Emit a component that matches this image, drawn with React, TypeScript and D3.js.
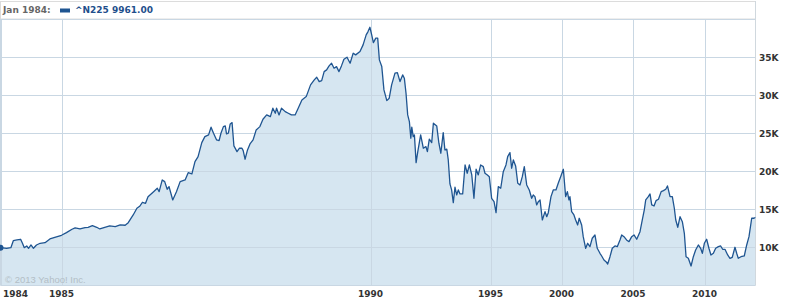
import React from "react";
import * as d3 from "d3";

// Nikkei 225 (^N225) monthly-ish closes, decimal year
const years: number[] = [
  1984.00, 1984.10, 1984.17, 1984.21, 1984.27, 1984.33, 1984.36, 1984.39, 1984.43, 1984.46,
  1984.50, 1984.54, 1984.59, 1984.65, 1984.73, 1984.81, 1984.89, 1985.00, 1985.08, 1985.17,
  1985.22, 1985.30, 1985.38, 1985.43, 1985.50, 1985.57, 1985.62, 1985.70, 1985.78, 1985.87,
  1985.95, 1986.03, 1986.08, 1986.16, 1986.22, 1986.27, 1986.31, 1986.36, 1986.40, 1986.49,
  1986.55, 1986.58, 1986.63, 1986.67, 1986.71, 1986.74, 1986.80, 1986.86, 1986.92, 1987.00,
  1987.05, 1987.11, 1987.16, 1987.21, 1987.27, 1987.32, 1987.38, 1987.42, 1987.46, 1987.51,
  1987.55, 1987.58, 1987.62, 1987.65, 1987.67, 1987.70, 1987.73, 1987.76, 1987.79, 1987.84,
  1987.88, 1987.92, 1987.94, 1987.97, 1988.01, 1988.05, 1988.10, 1988.15, 1988.21, 1988.26,
  1988.32, 1988.38, 1988.42, 1988.46, 1988.48, 1988.52, 1988.56, 1988.62, 1988.67, 1988.72,
  1988.78, 1988.83, 1988.89, 1988.96, 1988.99, 1989.03, 1989.09, 1989.13, 1989.17, 1989.21,
  1989.25, 1989.29, 1989.33, 1989.37, 1989.41, 1989.45, 1989.49, 1989.53, 1989.57, 1989.62,
  1989.67, 1989.72, 1989.76, 1989.83, 1989.88, 1989.93, 1989.96, 1989.99, 1990.05, 1990.12,
  1990.22, 1990.30, 1990.37, 1990.47, 1990.56, 1990.68, 1990.78, 1990.88, 1991.02, 1991.12,
  1991.23, 1991.34, 1991.41, 1991.48, 1991.55, 1991.62, 1991.68, 1991.72, 1991.78, 1991.83,
  1991.90, 1991.97, 1992.09, 1992.20, 1992.31, 1992.37, 1992.45, 1992.55, 1992.62, 1992.76,
  1992.85, 1992.93, 1993.03, 1993.10, 1993.18, 1993.24, 1993.31, 1993.38, 1993.45, 1993.52,
  1993.59, 1993.66, 1993.73, 1993.84, 1993.94, 1994.03, 1994.12, 1994.22, 1994.31, 1994.40,
  1994.49, 1994.59, 1994.70, 1994.77, 1994.87, 1994.95, 1995.08, 1995.25, 1995.39, 1995.55,
  1995.72, 1995.90, 1996.09, 1996.21, 1996.37, 1996.49, 1996.61, 1996.77, 1996.92, 1997.08,
  1997.24, 1997.38, 1997.55, 1997.73, 1997.90, 1998.01, 1998.13, 1998.25, 1998.37, 1998.49,
  1998.65, 1998.84, 1998.96, 1999.07, 1999.26, 1999.42, 1999.61, 1999.77, 1999.96, 2000.13,
  2000.29, 2000.41, 2000.52, 2000.59, 2000.71, 2000.87, 2000.99, 2001.13, 2001.24, 2001.41,
  2001.52, 2001.69, 2001.83, 2001.99, 2002.15, 2002.34, 2002.50, 2002.69, 2002.81, 2002.97,
  2003.11, 2003.23, 2003.39, 2003.55, 2003.74, 2003.90, 2004.09, 2004.21, 2004.37, 2004.55,
  2004.72, 2004.91, 2005.07, 2005.26, 2005.49, 2005.65, 2005.79, 2005.89, 2006.07, 2006.19,
  2006.31, 2006.47, 2006.61, 2006.78, 2006.97, 2007.13, 2007.29, 2007.41, 2007.59, 2007.75,
  2007.89, 2007.99, 2008.13, 2008.29, 2008.45, 2008.59, 2008.71, 2008.87, 2009.06, 2009.22,
  2009.38, 2009.57, 2009.73, 2009.85, 2009.99, 2010.15, 2010.31, 2010.45, 2010.62, 2010.78,
  2010.97, 2011.13, 2011.27, 2011.43, 2011.62, 2011.78, 2011.94, 2012.13, 2012.25, 2012.36,
  2012.55, 2012.78, 2012.95, 2013.11, 2013.30, 2013.46, 2013.58,
];

const closes: number[] = [
  9961, 9888, 9967, 10887, 10979, 11071, 10545, 9967, 10190, 9888,
  10322, 9888, 10322, 10545, 10624, 11110, 11333, 11596, 11938, 12385,
  12556, 12424, 12595, 12647, 12858, 12647, 12424, 12647, 12818, 12726,
  12950, 12910, 13252, 14264, 15144, 15446, 15932, 15801, 16668, 17325,
  17772, 17325, 18863, 18639, 17641, 17982, 16235, 17325, 18639, 18863,
  19822, 19651, 21267, 21924, 23764, 24552, 24776, 25787, 24999, 24119,
  24027, 24999, 25866, 25958, 24907, 24999, 26221, 26392, 23330, 22581,
  23028, 23028, 22713, 21583, 22805, 23593, 24119, 25433, 25866, 26839,
  27404, 27180, 28284, 27627, 28284, 27404, 28284, 27837, 27627, 27404,
  27404, 28284, 29375, 29808, 30465, 31346, 32003, 32357, 31779, 31911,
  33093, 33317, 33842, 34197, 33540, 33750, 33093, 33842, 34723, 34985,
  34197, 35511, 35288, 35721, 36602, 37916, 38349, 38916, 37916, 36904,
  37482, 37482, 34631, 33750, 30689, 29283, 29598, 31346, 32883, 32962,
  31779, 32660, 32226, 30255, 27404, 26523, 24342, 25787, 24552, 24776,
  21136, 22581, 24776, 23028, 23238, 22581, 24211, 23764, 26313, 25958,
  23685, 22371, 25078, 22805, 22897, 21491, 18337, 17549, 15880, 17903,
  16892, 17549, 17023, 17023, 20834, 19743, 20834, 19520, 16458, 20269,
  19520, 20834, 20610, 19743, 19520, 19296, 16458, 16011, 14566, 17982,
  17772, 19953, 20834, 21924, 22450, 20400, 21491, 20702, 18429, 18206,
  19296, 20610, 18206, 17549, 16458, 16892, 16668, 15578, 16011, 16235,
  13607, 14697, 14040, 14566, 16668, 17549, 17549, 18429, 19388, 20269,
  16668, 17325, 16235, 16668, 14697, 14264, 13607, 12950, 13830, 12950,
  11412, 9888, 10545, 10098, 11202, 11636, 9888, 9231, 8876, 8351,
  8127, 7825, 8784, 9888, 10190, 10098, 10979, 11636, 11412, 10979,
  10755, 11412, 11636, 11071, 12069, 13607, 14921, 16235, 16668, 17023,
  15578, 15446, 16143, 16327, 17325, 17457, 17641, 18074, 16668, 16668,
  15144, 13607, 12647, 14040, 13383, 11859, 8784, 8574, 7562, 8784,
  9665, 10322, 9888, 9231, 10545, 11071, 9888, 9008, 9231, 9888,
  10098, 10190, 9757, 9757, 9008, 8574, 8705, 10019, 9231, 8574,
  8784, 8876, 10322, 11412, 13830, 13830, 13962,
];

const xTickYears: number[] = [1984, 1985, 1990, 1995, 2000, 2005, 2010];
const xTickLabels: string[] = ["1984", "1985", "1990", "1995", "2000", "2005", "2010"];
const yTickValues: number[] = [10000, 15000, 20000, 25000, 30000, 35000];
const yTickLabels: string[] = ["10K", "15K", "20K", "25K", "30K", "35K"];

const legendDate = "Jan 1984:";
const legendSymbol = "^N225";
const legendValue = "9961.00";

const W = 785;
const H = 303;
const plotLeft = 0.5;
const plotRight = 755.5;
const plotTop = 19;
const plotBottom = 285.5;

// Yahoo's compressed time axis: piecewise-linear positions per tick year
const xScale = d3
  .scaleLinear()
  .domain([1984, 1985, 1990, 1995, 2000, 2005, 2010, 2013.6])
  .range([0.5, 61.5, 370.5, 490.5, 561.5, 633, 704.5, 756]);

const yScale = d3.scaleLinear().domain([5000, 40000]).range([plotBottom, plotTop]);

const FONT = "'DejaVu Sans', Verdana, sans-serif";

export default function App() {
  const pts: [number, number][] = years.map((y, i) => [y, closes[i]]);
  const line = d3
    .line<[number, number]>()
    .x((d) => xScale(d[0]))
    .y((d) => yScale(d[1]));
  const area = d3
    .area<[number, number]>()
    .x((d) => xScale(d[0]))
    .y0(plotBottom)
    .y1((d) => yScale(d[1]));

  const gridColor = "#c9d7e3";

  return (
    <svg
      width={W}
      height={H}
      style={{ position: "absolute", left: 0, top: 0, background: "#fff" }}
    >
      <defs>
        <clipPath id="plotClip">
          <rect x={0} y={plotTop} width={plotRight} height={plotBottom - plotTop} />
        </clipPath>
      </defs>
      {/* header frame */}
      <rect x={0.5} y={1.5} width={plotRight - 0.5} height={plotTop - 1.5} fill="#fff" stroke="#dcdcdc" />

      {/* area */}
      <path d={area(pts) || ""} fill="#d6e6f1" clipPath="url(#plotClip)" />

      {/* grid */}
      {yTickValues.map((v) => (
        <line
          key={"gy" + v}
          x1={plotLeft}
          x2={plotRight}
          y1={Math.round(yScale(v)) + 0.5}
          y2={Math.round(yScale(v)) + 0.5}
          stroke={gridColor}
        />
      ))}
      {xTickYears.map((y) => (
        <line
          key={"gx" + y}
          x1={Math.round(xScale(y)) + 0.5}
          x2={Math.round(xScale(y)) + 0.5}
          y1={plotTop}
          y2={plotBottom}
          stroke={gridColor}
        />
      ))}
      {/* plot frame */}
      <line x1={plotLeft} x2={plotRight} y1={plotTop + 0.5} y2={plotTop + 0.5} stroke={gridColor} />
      <line x1={plotLeft} x2={plotRight} y1={plotBottom} y2={plotBottom} stroke={gridColor} />
      <line x1={plotLeft} x2={plotLeft} y1={plotTop} y2={plotBottom} stroke={gridColor} />
      <line x1={plotRight} x2={plotRight} y1={1} y2={plotBottom} stroke="#d0d8de" />

      {/* watermark */}
      <text x={5} y={282.5} fontFamily="'Liberation Sans', Arial, sans-serif" fontSize={9.5} fill="#b3bec6">
        © 2013 Yahoo! Inc.
      </text>

      {/* line */}
      <path
        d={line(pts) || ""}
        fill="none"
        stroke="#1f5591"
        strokeWidth={1.3}
        strokeLinejoin="round"
        clipPath="url(#plotClip)"
      />
      <circle cx={xScale(years[0])} cy={yScale(closes[0])} r={3} fill="#1f5591" />

      {/* x labels */}
      {xTickYears.map((y, i) => (
        <text
          key={"xl" + y}
          x={i === 0 ? 3 : xScale(y)}
          y={296.5}
          textAnchor={i === 0 ? "start" : "middle"}
          fontFamily={FONT}
          fontWeight="bold"
          fontSize={9}
          fill="#333"
        >
          {xTickLabels[i]}
        </text>
      ))}

      {/* y labels */}
      {yTickValues.map((v, i) => (
        <text
          key={"yl" + v}
          x={759}
          y={Math.round(yScale(v)) + 3.5}
          fontFamily={FONT}
          fontWeight="bold"
          fontSize={9}
          fill="#333"
        >
          {yTickLabels[i]}
        </text>
      ))}

      {/* legend */}
      <text x={3} y={13} fontFamily={FONT} fontWeight="bold" fontSize={9} fill="#666">
        {legendDate}
      </text>
      <rect x={60} y={8.5} width={10} height={4} fill="#1f5591" />
      <text x={75} y={13} fontFamily={FONT} fontWeight="bold" fontSize={9} fill="#1f4f8c">
        {legendSymbol} {legendValue}
      </text>
    </svg>
  );
}
